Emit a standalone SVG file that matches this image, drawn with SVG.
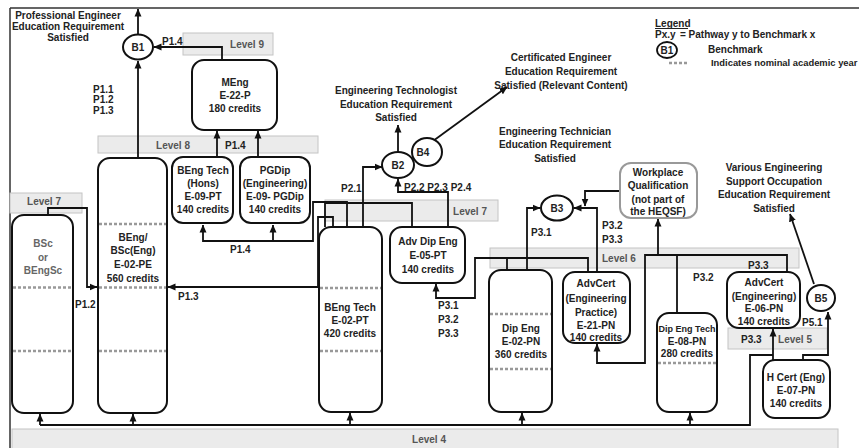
<svg xmlns="http://www.w3.org/2000/svg" width="859" height="448" viewBox="0 0 859 448">
<defs>
<marker id="ah" markerWidth="8" markerHeight="8" refX="7.5" refY="4" orient="auto" markerUnits="userSpaceOnUse"><path d="M0,0.5 L8,4 L0,7.5 z" fill="#111"/></marker>
<style>
text{font-family:"Liberation Sans",Arial,sans-serif;font-weight:bold;font-size:10px;fill:#222;text-anchor:middle}
.s{text-anchor:start}
.lv{fill:#555}
.band{fill:#ebebeb;stroke:#c4c4c4;stroke-width:1}
.box{fill:#fff;stroke:#111;stroke-width:2}
.wp{fill:#fff;stroke:#999;stroke-width:2}
.ln{fill:none;stroke:#111;stroke-width:1.8}
.ar{marker-end:url(#ah)}
.dash{stroke:#999;stroke-width:2.5;stroke-dasharray:3 2;fill:none}
.gt{fill:#666}
</style>
</defs>
<rect width="859" height="448" fill="#fff"/>
<path d="M10,8 H859 M10,8 V448" fill="none" stroke="#333" stroke-width="1.5"/>

<g id="bands">
<rect class="band" x="12" y="429" width="826" height="22"/>
<text class="lv" x="429" y="443">Level 4</text>
<rect class="band" x="183" y="33" width="90" height="22"/>
<text class="lv" x="247" y="48">Level 9</text>
<rect class="band" x="98" y="136" width="220" height="17"/>
<text class="lv" x="173" y="149">Level 8</text>
<rect class="band" x="10" y="193" width="72" height="20"/>
<text class="lv" x="44" y="205">Level 7</text>
<rect class="band" x="325" y="200" width="173" height="21"/>
<text class="lv" x="470" y="215">Level 7</text>
<rect class="band" x="490" y="248" width="309" height="20"/>
<text class="lv s" x="602" y="262">Level 6</text>
<rect class="band" x="728" y="328" width="99" height="21"/>
<text class="lv" x="795" y="343">Level 5</text>
</g>

<g id="titles">
<text x="68" y="19">Professional Engineer</text>
<text x="68" y="30">Education Requirement</text>
<text x="68" y="41">Satisfied</text>
<text x="396" y="93.5">Engineering Technologist</text>
<text x="396" y="107.5">Education Requirement</text>
<text x="396" y="120.5">Satisfied</text>
<text x="561" y="60.5">Certificated Engineer</text>
<text x="561" y="74.5">Education Requirement</text>
<text x="561" y="88.5">Satisfied (Relevant Content)</text>
<text x="555" y="134.5">Engineering Technician</text>
<text x="555" y="147.5">Education Requirement</text>
<text x="555" y="161.5">Satisfied</text>
<text x="774" y="170.5">Various Engineering</text>
<text x="774" y="184.5">Support Occupation</text>
<text x="774" y="197.5">Education Requirement</text>
<text x="774" y="211.5">Satisfied</text>
</g>

<g id="legend">
<text class="s" x="655" y="26.5">Legend</text>
<path d="M655,28.5 H688" stroke="#222" stroke-width="1"/>
<text class="s" x="655" y="38">Px.y</text>
<text class="s" x="680" y="38">= Pathway y to Benchmark x</text>
<ellipse cx="667" cy="50" rx="10" ry="8" fill="#fff" stroke="#111" stroke-width="1.8"/>
<text x="667" y="53.5">B1</text>
<text class="s" x="708" y="53">Benchmark</text>
<path class="dash" d="M669,63 H687" stroke-width="2"/>
<text class="s" x="711" y="66" style="font-size:9.4px">Indicates nominal academic year</text>
</g>

<g id="connectors">
<path class="ln ar" d="M138,34 V9"/>
<path class="ln ar" d="M138,158 V61"/>
<path class="ln ar" d="M222,60 V47 H154"/>
<path class="ln ar" d="M217,157 V131"/>
<path class="ln ar" d="M258,157 V131"/>
<path class="ln ar" d="M347,227 V202 H313 V241 H203 V225"/>
<path class="ln ar" d="M273,241 V225"/>
<path class="ln ar" d="M333,227 V217 H318 V287 H168"/>
<path class="ln" d="M412,227 V203 H325 V227"/>
<path class="ln ar" d="M363,227 V167 H382"/>
<path class="ln ar" d="M448,227 V192 H398 V179"/>
<path class="ln ar" d="M398,152 V125"/>
<path class="ln ar" d="M433,141 L507,87"/>
<path class="ln ar" d="M48,215 V208 H87 V287 H97"/>
<path class="ln" d="M40,425 H750 V355 H773"/>
<path class="ln ar" d="M40,425 V414"/>
<path class="ln ar" d="M133,425 V414"/>
<path class="ln ar" d="M350,425 V413"/>
<path class="ln ar" d="M522,425 V413"/>
<path class="ln ar" d="M690,425 V413"/>
<path class="ln ar" d="M773,360 V329"/>
<path class="ln ar" d="M803,360 V355 H828 V312"/>
<path class="ln ar" d="M814,284 L790,214"/>
<path class="ln ar" d="M588,272 V258 H475 V298 H436 V284"/>
<path class="ln" d="M507,270 V258"/>
<path class="ln ar" d="M527,270 V208 H540"/>
<path class="ln ar" d="M597,272 V208 H574"/>
<path class="ln ar" d="M620,191 H585 V206"/>
<path class="ln ar" d="M787,272 V255 H645 V363 H597 V344"/>
<path class="ln ar" d="M658,255 V219"/>
<path class="ln" d="M677,255 V313"/>
</g>

<g id="labels">
<text class="s" x="162" y="45">P1.4</text>
<text class="s" x="93" y="93">P1.1</text>
<text class="s" x="93" y="103">P1.2</text>
<text class="s" x="93" y="114">P1.3</text>
<text class="s" x="225" y="149">P1.4</text>
<text class="s" x="230" y="253">P1.4</text>
<text class="s" x="178" y="300">P1.3</text>
<text class="s" x="75" y="308">P1.2</text>
<text class="s" x="341" y="192">P2.1</text>
<text class="s" x="404" y="191">P2.2 P2.3 P2.4</text>
<text class="s" x="438" y="308.5">P3.1</text>
<text class="s" x="438" y="322.5">P3.2</text>
<text class="s" x="438" y="336.5">P3.3</text>
<text class="s" x="531" y="236">P3.1</text>
<text class="s" x="602" y="228.5">P3.2</text>
<text class="s" x="602" y="242.5">P3.3</text>
<text class="s" x="693" y="281">P3.2</text>
<text class="s" x="748" y="268.5">P3.3</text>
<text class="s" x="741" y="343">P3.3</text>
<text class="s" x="802" y="326">P5.1</text>
</g>

<g id="BSc">
<rect class="box" x="12" y="215" width="61" height="198" rx="12"/>
<path class="dash" d="M13,287.5 H72 M13,351 H72"/>
<text class="gt" x="43" y="246.5">BSc</text>
<text class="gt" x="43" y="260.5">or</text>
<text class="gt" x="43" y="273.5">BEngSc</text>
</g>
<g id="BEngBSc">
<rect class="box" x="98" y="158" width="69" height="255" rx="12"/>
<path class="dash" d="M99,224 H166 M99,287.5 H166 M99,351 H166"/>
<text x="133" y="240.5">BEng/</text>
<text x="133" y="253.5">BSc(Eng)</text>
<text x="133" y="267.5">E-02-PE</text>
<text x="133" y="282">560 credits</text>
</g>
<g id="MEng">
<rect class="box" x="192" y="60" width="85" height="70" rx="12"/>
<text x="235" y="85.5">MEng</text>
<text x="235" y="98.5">E-22-P</text>
<text x="235" y="111.5">180 credits</text>
</g>
<g id="BEngTechHons">
<rect class="box" x="172" y="157" width="61" height="66" rx="11"/>
<text x="203" y="173.5">BEng Tech</text>
<text x="203" y="186.5">(Hons)</text>
<text x="203" y="199.5">E-09-PT</text>
<text x="203" y="212.5">140 credits</text>
</g>
<g id="PGDip">
<rect class="box" x="240" y="157" width="70" height="66" rx="11"/>
<text x="275" y="173.5">PGDip</text>
<text x="275" y="186.5">(Engineering)</text>
<text x="275" y="199.5">E-09- PGDip</text>
<text x="275" y="212.5">140 credits</text>
</g>
<g id="BEngTech">
<rect class="box" x="319" y="227" width="63" height="185" rx="12"/>
<path class="dash" d="M320,288 H381 M320,351 H381"/>
<text x="350" y="310.5">BEng Tech</text>
<text x="350" y="323.5">E-02-PT</text>
<text x="350" y="336.5">420 credits</text>
</g>
<g id="AdvDipEng">
<rect class="box" x="390" y="227" width="75" height="56" rx="12"/>
<text x="428" y="244.5">Adv Dip Eng</text>
<text x="428" y="258.5">E-05-PT</text>
<text x="428" y="272.5">140 credits</text>
</g>
<g id="DipEng">
<rect class="box" x="489" y="270" width="63" height="142" rx="12"/>
<path class="dash" d="M490,314 H551 M490,369 H551"/>
<text x="521" y="331.5">Dip Eng</text>
<text x="521" y="344.5">E-02-PN</text>
<text x="521" y="357.5">360 credits</text>
</g>
<g id="AdvCertEP">
<rect class="box" x="563" y="272" width="67" height="71" rx="12"/>
<text x="596" y="286.5">AdvCert</text>
<text x="596" y="301.5">(Engineering</text>
<text x="596" y="315.5">Practice)</text>
<text x="596" y="328.5">E-21-PN</text>
<text x="596" y="341">140 credits</text>
</g>
<g id="Workplace">
<rect class="wp" x="620" y="163" width="77" height="55" rx="11"/>
<text x="658" y="175.5">Workplace</text>
<text x="658" y="188.5">Qualification</text>
<text x="658" y="202.5">(not part of</text>
<text x="658" y="215">the HEQSF)</text>
</g>
<g id="DipEngTech">
<rect class="box" x="657" y="313" width="60" height="99" rx="12"/>
<path class="dash" d="M658,363 H716"/>
<text x="687" y="331.5" style="font-size:9px">Dip Eng Tech</text>
<text x="687" y="344.5">E-08-PN</text>
<text x="687" y="357">280 credits</text>
</g>
<g id="AdvCertE">
<rect class="box" x="727" y="272" width="73" height="56" rx="12"/>
<text x="764" y="285.5">AdvCert</text>
<text x="764" y="299.5">(Engineering)</text>
<text x="764" y="311.5">E-06-PN</text>
<text x="764" y="325">140 credits</text>
</g>
<g id="HCert">
<rect class="box" x="763" y="360" width="67" height="58" rx="12"/>
<text x="796" y="380.5">H Cert (Eng)</text>
<text x="796" y="393.5">E-07-PN</text>
<text x="796" y="406.5">140 credits</text>
</g>
<g id="B1">
<ellipse cx="138" cy="47" rx="15" ry="12.5" fill="#fff" stroke="#111" stroke-width="2"/>
<text x="138" y="50.5">B1</text>
</g>
<g id="B4">
<ellipse cx="427" cy="152" rx="15" ry="14" fill="#fff" stroke="#111" stroke-width="2"/>
<text x="423" y="155.5">B4</text>
</g>
<g id="B2">
<ellipse cx="398" cy="165" rx="16" ry="13" fill="#fff" stroke="#111" stroke-width="2"/>
<text x="398" y="168.5">B2</text>
</g>
<g id="B3">
<ellipse cx="557" cy="208" rx="16" ry="12.5" fill="#fff" stroke="#111" stroke-width="2"/>
<text x="557" y="211.5">B3</text>
</g>
<g id="B5">
<ellipse cx="821" cy="298" rx="14" ry="13" fill="#fff" stroke="#111" stroke-width="2"/>
<text x="821" y="301.5">B5</text>
</g>
</svg>
